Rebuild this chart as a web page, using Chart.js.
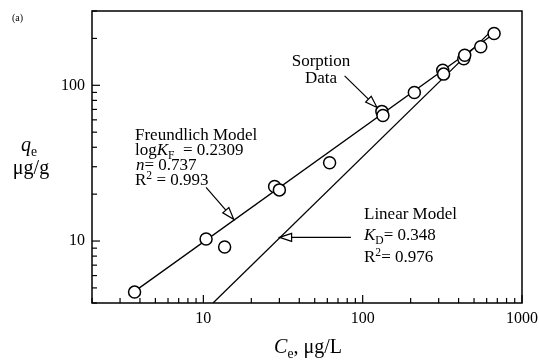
<!DOCTYPE html>
<html>
<head>
<meta charset="utf-8">
<script src="https://cdn.jsdelivr.net/npm/chart.js@4/dist/chart.umd.min.js"></script>
<style>
html, body { margin: 0; padding: 0; background: #fff; }
</style>
</head>
<body>
<canvas id="chart" width="539" height="360"></canvas>
<script>
// sorption data, Ce (ug/L) vs qe (ug/g)
const sorptionC = [3.7, 10.4, 13.6, 28, 30, 62, 132, 134, 211, 318, 322, 431, 437, 551, 668];
const sorptionQ = [4.7, 10.3, 9.15, 22.4, 21.3, 31.8, 68, 64, 90, 125, 118, 148, 156, 177, 215];

// fitted lines at their ends
const freundlichC = [3.7, 670];
const freundlichQ = [4.75, 215];
const linearC = [11.5, 650];
const linearQ = [4.0, 226];

const xTicks = [2, 3, 4, 5, 6, 7, 8, 9, 10, 20, 30, 40, 50, 60, 70, 80, 90, 100, 200, 300, 400, 500, 600, 700, 800, 900, 1000];
const yTicks = [4, 5, 6, 7, 8, 9, 10, 20, 30, 40, 50, 60, 70, 80, 90, 100, 200, 300];
const xLabels = [10, 100, 1000];
const yLabels = [10, 100];

const serif = '"Liberation Serif", "Times New Roman", serif';

function pairs(xs, ys) {
	return xs.map((x, i) => ({ x: x, y: ys[i] }));
}

// draw text made of runs: plain, italic, subscript, superscript
function drawRuns(ctx, runs, x, y, size, align) {
	const fontFor = r => (r.i ? 'italic ' : '') + Math.round((r.sub || r.sup ? size * 0.68 : size) * 10) / 10 + 'px ' + serif;
	let total = 0;
	runs.forEach(r => {
		ctx.font = fontFor(r);
		total += ctx.measureText(r.t).width;
	});
	let cx = align === 'center' ? x - total / 2 : x;
	ctx.textAlign = 'left';
	ctx.textBaseline = 'alphabetic';
	runs.forEach(r => {
		ctx.font = fontFor(r);
		let dy = 0;
		if (r.sub) dy = size * 0.25;
		if (r.sup) dy = -size * 0.38;
		ctx.fillText(r.t, cx, y + dy);
		cx += ctx.measureText(r.t).width;
	});
}

function arrow(ctx, x1, y1, x2, y2) {
	const a = Math.atan2(y2 - y1, x2 - x1);
	const len = 12, half = 4;
	const bx = x2 - len * Math.cos(a), by = y2 - len * Math.sin(a);
	ctx.beginPath();
	ctx.moveTo(x1, y1);
	ctx.lineTo(bx, by);
	ctx.stroke();
	ctx.beginPath();
	ctx.moveTo(x2, y2);
	ctx.lineTo(bx + half * Math.sin(a), by - half * Math.cos(a));
	ctx.lineTo(bx - half * Math.sin(a), by + half * Math.cos(a));
	ctx.closePath();
	ctx.fillStyle = '#fff';
	ctx.fill();
	ctx.stroke();
	ctx.fillStyle = '#000';
}

const framePlugin = {
	id: 'frame',
	afterDatasetsDraw(chart) {
		const ctx = chart.ctx;
		const area = chart.chartArea;
		const xs = chart.scales.x, ys = chart.scales.y;
		ctx.save();
		ctx.strokeStyle = '#000';
		ctx.lineWidth = 1.5;
		ctx.strokeRect(area.left, area.top, area.right - area.left, area.bottom - area.top);
		ctx.lineWidth = 1.2;
		xs.ticks.forEach(t => {
			const px = xs.getPixelForValue(t.value);
			const l = xLabels.includes(t.value) ? 8 : 5;
			ctx.beginPath();
			ctx.moveTo(px, area.bottom);
			ctx.lineTo(px, area.bottom - l);
			ctx.stroke();
		});
		ys.ticks.forEach(t => {
			const py = ys.getPixelForValue(t.value);
			const l = yLabels.includes(t.value) ? 8 : 5;
			ctx.beginPath();
			ctx.moveTo(area.left, py);
			ctx.lineTo(area.left + l, py);
			ctx.stroke();
		});
		ctx.restore();
	},
	afterDraw(chart) {
		const ctx = chart.ctx;
		const xs = chart.scales.x, ys = chart.scales.y;
		const at = (c, q) => [xs.getPixelForValue(c), ys.getPixelForValue(q)];
		ctx.save();
		ctx.fillStyle = '#000';
		ctx.strokeStyle = '#000';
		ctx.lineWidth = 1.2;

		drawRuns(ctx, [{ t: '(a)' }], 12, 21, 10);

		// axis titles
		drawRuns(ctx, [{ t: 'q', i: true }, { t: 'e', sub: true }], 29, 151, 20, 'center');
		drawRuns(ctx, [{ t: 'μg/g' }], 31, 174, 20, 'center');
		drawRuns(ctx, [{ t: 'C', i: true }, { t: 'e', sub: true }, { t: ', μg/L' }], 308, 353, 20, 'center');

		// Freundlich
		const fs = 17;
		drawRuns(ctx, [{ t: 'Freundlich Model' }], 135, 140, fs);
		drawRuns(ctx, [{ t: 'log' }, { t: 'K', i: true }, { t: 'F', sub: true }, { t: '  = 0.2309' }], 135, 155, fs);
		drawRuns(ctx, [{ t: 'n', i: true }, { t: '= 0.737' }], 136, 170, fs);
		drawRuns(ctx, [{ t: 'R' }, { t: '2', sup: true }, { t: ' = 0.993' }], 135, 185, fs);
		arrow(ctx, ...at(10.4, 22.1), ...at(15.5, 13.8));

		// sorption data
		drawRuns(ctx, [{ t: 'Sorption' }], 321, 66, fs, 'center');
		drawRuns(ctx, [{ t: 'Data' }], 321, 83, fs, 'center');
		arrow(ctx, ...at(77, 115), ...at(123, 72));

		// linear
		drawRuns(ctx, [{ t: 'Linear Model' }], 364, 219, fs);
		drawRuns(ctx, [{ t: 'K', i: true }, { t: 'D', sub: true }, { t: '= 0.348' }], 364, 240, fs);
		drawRuns(ctx, [{ t: 'R' }, { t: '2', sup: true }, { t: '= 0.976' }], 364, 262, fs);
		arrow(ctx, ...at(84.4, 10.56), ...at(30.1, 10.56));

		ctx.restore();
	}
};

new Chart(document.getElementById('chart'), {
	type: 'scatter',
	data: {
		datasets: [
			{
				label: 'Sorption Data',
				data: pairs(sorptionC, sorptionQ),
				pointRadius: 6,
				pointBorderWidth: 1.5,
				pointBackgroundColor: '#fff',
				pointBorderColor: '#000',
				order: 0
			},
			{
				label: 'Freundlich Model',
				data: pairs(freundlichC, freundlichQ),
				showLine: true,
				pointRadius: 0,
				borderColor: '#000',
				borderWidth: 1.3,
				order: 1
			},
			{
				label: 'Linear Model',
				data: pairs(linearC, linearQ),
				showLine: true,
				pointRadius: 0,
				borderColor: '#000',
				borderWidth: 1.3,
				order: 2
			}
		]
	},
	options: {
		responsive: false,
		animation: false,
		devicePixelRatio: 1,
		layout: { padding: { top: 11, right: 17, left: 0, bottom: 0 } },
		plugins: {
			legend: { display: false },
			tooltip: { enabled: false }
		},
		scales: {
			x: {
				type: 'logarithmic',
				min: 2,
				max: 1000,
				afterBuildTicks: s => { s.ticks = xTicks.map(v => ({ value: v })); },
				afterFit: s => { s.height = 57; s.paddingLeft = 0; s.paddingRight = 0; },
				grid: { display: false, drawTicks: false },
				border: { display: false },
				ticks: {
					autoSkip: false,
					maxRotation: 0,
					padding: 6,
					color: '#000',
					font: { family: serif, size: 16 },
					callback: v => xLabels.includes(v) ? String(v) : ''
				}
			},
			y: {
				type: 'logarithmic',
				min: 4,
				max: 300,
				afterBuildTicks: s => { s.ticks = yTicks.map(v => ({ value: v })); },
				afterFit: s => { s.width = 92; s.paddingTop = 0; s.paddingBottom = 0; },
				grid: { display: false, drawTicks: false },
				border: { display: false },
				ticks: {
					autoSkip: false,
					padding: 7,
					color: '#000',
					font: { family: serif, size: 16 },
					callback: v => yLabels.includes(v) ? String(v) : ''
				}
			}
		}
	},
	plugins: [framePlugin]
});
</script>
</body>
</html>
